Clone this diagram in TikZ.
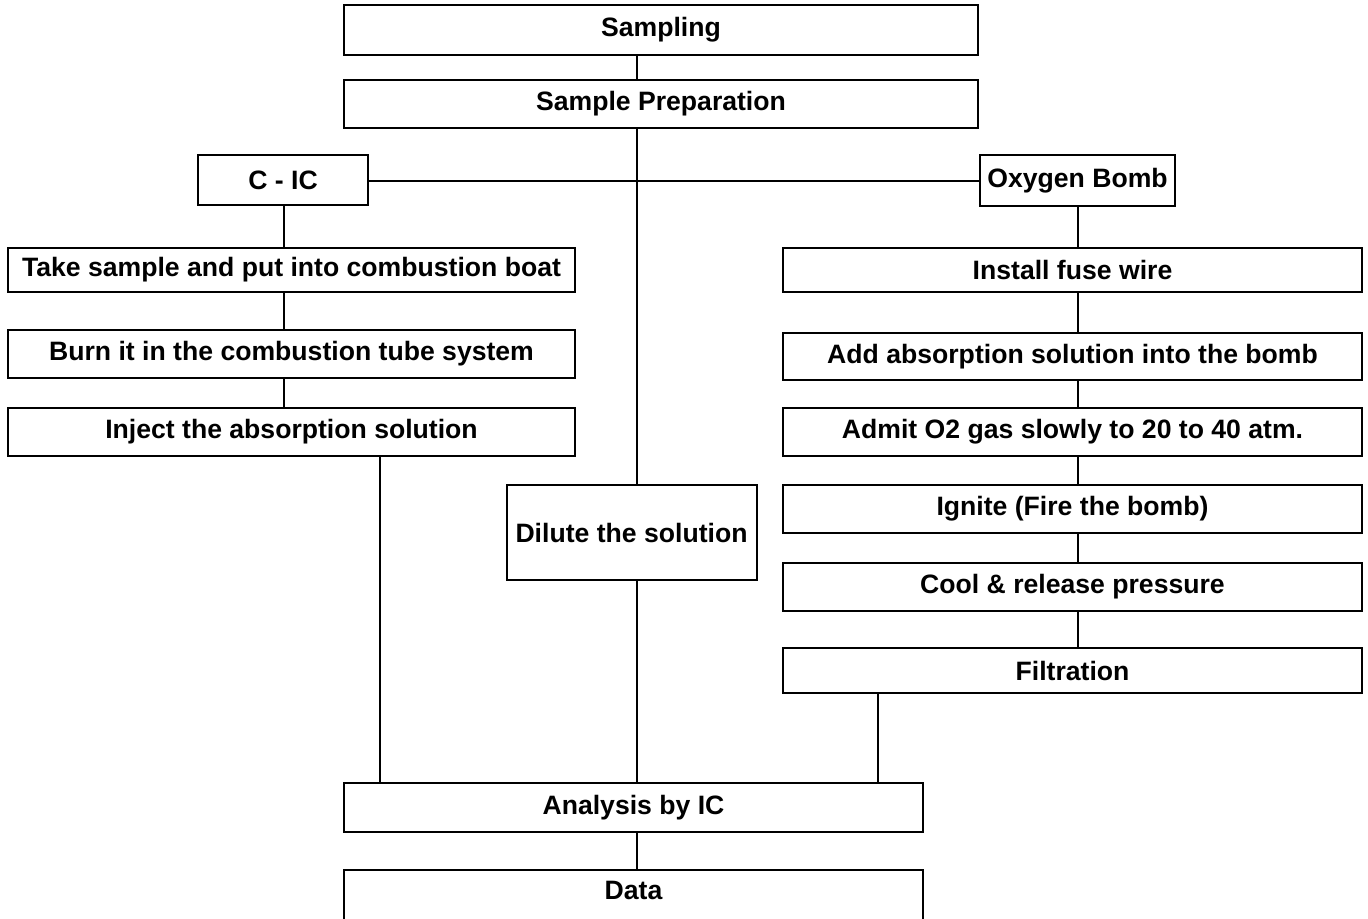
\documentclass[tikz,border=0pt]{standalone}
\usepackage{fontspec}
\setmainfont{Liberation Sans}

\begin{document}
\begin{tikzpicture}[x=0.5pt,y=-0.5pt,
  box/.style={draw,line width=1pt,inner sep=0pt,font=\bfseries\fontsize{13.3}{16}\selectfont},
  lbox/.style={box,minimum width=283.5pt,minimum height=24pt},
  rbox/.style={box,minimum width=289.5pt,minimum height=24pt},
  link/.style={line width=0.75pt}]
\useasboundingbox (0,0) rectangle (1368,919);
\clip (0,0) rectangle (1368,919);

\node[box,minimum width=317pt,minimum height=25pt] (sampling) at (661,30) {Sampling};
\node[box,minimum width=317pt,minimum height=24pt] (prep) at (661,104) {Sample Preparation};

\node[box,minimum width=85pt,minimum height=25pt] (cic) at (283,180.5) {C - IC};
\node[box,minimum width=97.5pt,minimum height=25.5pt] (oxy) at (1077.5,181) {Oxygen Bomb};

\node[lbox,minimum height=22pt] (take) at (291.5,270) {Take sample and put into combustion boat};
\node[lbox] (burn) at (291.5,354) {Burn it in the combustion tube system};
\node[lbox] (inject) at (291.5,432) {Inject the absorption solution};

\node[box,minimum width=125pt,minimum height=47.5pt] (dilute) at (631.5,532.5) {Dilute the solution};

\node[rbox,minimum height=22pt] (install) at (1072.5,270) {Install fuse wire};
\node[rbox,minimum height=23.5pt] (add) at (1072.5,356.5) {Add absorption solution into the bomb};
\node[rbox] (admit) at (1072.5,432) {Admit O2 gas slowly to 20 to 40 atm.};
\node[rbox] (ignite) at (1072.5,509) {Ignite (Fire the bomb)};
\node[rbox] (cool) at (1072.5,587) {Cool \& release pressure};
\node[rbox,minimum height=22.5pt] (filt) at (1072.5,670.5) {Filtration};

\node[box,minimum width=289.5pt,minimum height=24.5pt] (analysis) at (633.5,807.5) {Analysis by IC};
\node[box,minimum width=289.5pt,minimum height=25pt,text depth=5pt] (data) at (633.5,895) {Data};

\coordinate (spine) at (637,0);
\coordinate (lcol) at (284,0);
\coordinate (lout) at (380,0);
\coordinate (rcol) at (1078,0);
\coordinate (rout) at (878,0);

\draw[link] (sampling.south -| spine) -- (prep.north -| spine);
\draw[link] (prep.south -| spine) -- (dilute.north -| spine);
\draw[link] (oxy.west -| cic.east) -- (oxy.west);
\draw[link] (dilute.south -| spine) -- (analysis.north -| spine);
\draw[link] (analysis.south -| spine) -- (data.north -| spine);

\foreach \a/\b in {cic/take,take/burn,burn/inject}
  \draw[link] (\a.south -| lcol) -- (\b.north -| lcol);
\foreach \a/\b in {oxy/install,install/add,add/admit,admit/ignite,ignite/cool,cool/filt}
  \draw[link] (\a.south -| rcol) -- (\b.north -| rcol);

\draw[link] (inject.south -| lout) -- (analysis.north -| lout);
\draw[link] (filt.south -| rout) -- (analysis.north -| rout);

\end{tikzpicture}
\end{document}
